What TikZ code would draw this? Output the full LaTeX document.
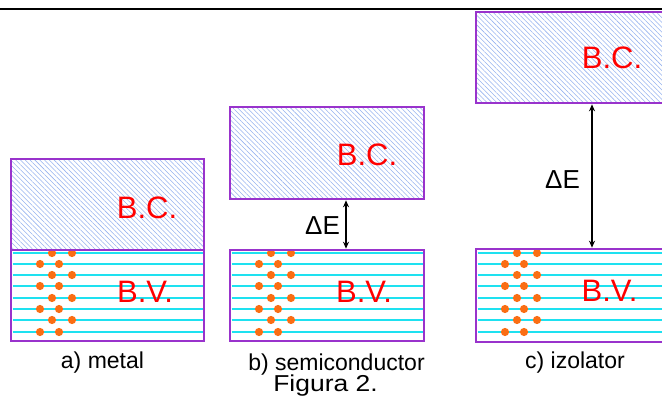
\documentclass[tikz,border=0pt]{standalone}
\usepackage{fontspec}
\setmainfont{Liberation Sans}
\usetikzlibrary{patterns.meta,arrows.meta}
\definecolor{bandpurple}{RGB}{153,51,204}
\definecolor{hatchblue}{RGB}{150,178,238}
\definecolor{lvlcyan}{RGB}{30,225,240}
\definecolor{eorange}{RGB}{250,110,20}
\tikzset{
  bcband/.style={inner sep=0pt,outer sep=0pt,anchor=north west,
    pattern={Lines[angle=-45,distance=3.4pt,line width=0.55pt]},pattern color=hatchblue},
  bvband/.style={inner sep=0pt,outer sep=0pt,anchor=north west,fill=white},
  bandborder/.style={draw=bandpurple,line width=2.6pt},
  level/.style={draw=lvlcyan,line width=2pt},
  electron/.style={fill=eorange},
  bandlabel/.style={text=red,font=\fontsize{31}{34}\selectfont,inner sep=0pt},
  gaplabel/.style={font=\fontsize{26}{28}\selectfont,inner sep=0pt},
  caption/.style={font=\fontsize{23}{25}\selectfont,inner sep=0pt,anchor=base},
  gaparrow/.style={{Stealth[length=7pt,width=6pt]}-{Stealth[length=7pt,width=6pt]},line width=1.2pt}
}
\newcommand{\bvlevels}[1]{%
  \foreach \yy in {253,264,275,286,298,309,320,332}{
    \draw[level] ([xshift=1.5pt]#1.west |- 0,\yy) -- ([xshift=-1.5pt]#1.east |- 0,\yy);
  }
  \foreach \yy in {253,275,298,320}{
    \fill[electron] ([xshift=41pt]#1.west |- 0,\yy) circle (4.1pt);
    \fill[electron] ([xshift=61pt]#1.west |- 0,\yy) circle (4.1pt);
  }
  \foreach \yy in {264,286,309,332}{
    \fill[electron] ([xshift=29pt]#1.west |- 0,\yy) circle (4.1pt);
    \fill[electron] ([xshift=48pt]#1.west |- 0,\yy) circle (4.1pt);
  }
}
\begin{document}
\begin{tikzpicture}[x=1pt,y=-1pt]
\useasboundingbox (0,0) rectangle (662,404);
\clip (0,0) rectangle (662,404);
% top rule
\coordinate (ruleL) at (0,9);
\coordinate (ruleR) at (662,9);
\draw[line width=2.4pt] (ruleL) -- (ruleR);
% a) metal
\node[bcband,minimum width=193pt,minimum height=91pt] (bca) at (11,159) {};
\node[bvband,minimum width=193pt,minimum height=91pt] (bva) at (11,250) {};
\bvlevels{bva}
\draw[bandborder] (bca.north west) rectangle (bca.south east);
\draw[bandborder] (bva.north west) rectangle (bva.south east);
% b) semiconductor
\node[bcband,minimum width=194pt,minimum height=92pt] (bcb) at (230,107) {};
\node[bvband,minimum width=194pt,minimum height=91pt] (bvb) at (230,250) {};
\bvlevels{bvb}
\draw[bandborder] (bcb.north west) rectangle (bcb.south east);
\draw[bandborder] (bvb.north west) rectangle (bvb.south east);
% c) izolator
\node[bcband,minimum width=200pt,minimum height=91pt] (bcc) at (476,12) {};
\node[bvband,minimum width=200pt,minimum height=93pt] (bvc) at (476,249) {};
\bvlevels{bvc}
\draw[bandborder] (bcc.north west) rectangle (bcc.south east);
\draw[bandborder] (bvc.north west) rectangle (bvc.south east);
% labels
\node[bandlabel] (lbca) at (147,207.5) {B.C.};
\node[bandlabel] (lbva) at (145,292) {B.V.};
\node[bandlabel] (lbcb) at (367,155) {B.C.};
\node[bandlabel] (lbvb) at (364,291.5) {B.V.};
\node[bandlabel] (lbcc) at (612,57.5) {B.C.};
\node[bandlabel] (lbvc) at (609.5,291) {B.V.};
% gaps
\coordinate (axb) at (346,0);
\coordinate (axc) at (592,0);
\draw[gaparrow] ([yshift=-1.3pt]bcb.south -| axb) -- ([yshift=1.3pt]bvb.north -| axb);
\draw[gaparrow] ([yshift=-1.3pt]bcc.south -| axc) -- ([yshift=1.3pt]bvc.north -| axc);
\node[gaplabel] (geb) at (322.5,225.5) {ΔE};
\node[gaplabel] (gec) at (562.5,179.5) {ΔE};
% captions
\node[caption] (capa) at (102.5,368) {a) metal};
\node[caption] (capb) at (336.5,370) {b) semiconductor};
\node[caption] (capc) at (575,368) {c) izolator};
\node[caption,xscale=1.15] (fig) at (325.5,391.5) {Figura 2.};
\end{tikzpicture}
\end{document}
